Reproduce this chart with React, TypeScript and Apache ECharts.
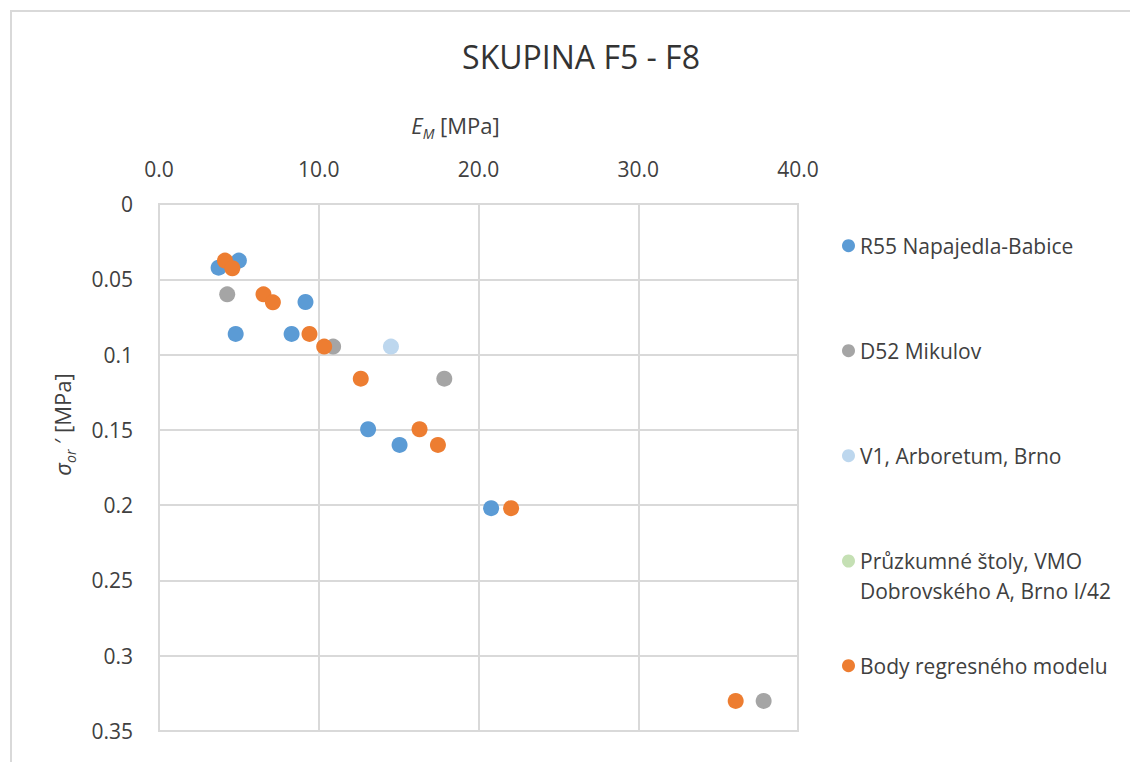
import React, { useEffect, useRef } from "react";
import * as echarts from "echarts";

const seriesNames = [
  "R55 Napajedla-Babice",
  "D52 Mikulov",
  "V1, Arboretum, Brno",
  "Průzkumné štoly, VMO Dobrovského A, Brno I/42",
  "Body regresného modelu",
];
const seriesColors = ["#5B9BD5", "#A5A5A5", "#BDD7EE", "#C5E0B4", "#ED7D31"];

const r55Data: number[][] = [
  [3.73, 0.0423], [5.0, 0.0376], [4.8, 0.0863], [9.17, 0.0651],
  [8.3, 0.0863], [13.09, 0.1496], [15.06, 0.16], [20.79, 0.202],
];
const d52Data: number[][] = [
  [4.27, 0.06], [10.9, 0.0947], [17.86, 0.116], [37.85, 0.33],
];
const v1Data: number[][] = [[14.52, 0.0947]];
const pruzkumData: number[][] = [];
const regresData: number[][] = [
  [4.13, 0.0376], [4.59, 0.0427], [6.54, 0.06], [7.13, 0.0653],
  [9.42, 0.0863], [10.34, 0.0947], [12.63, 0.116], [16.31, 0.1496],
  [17.46, 0.16], [22.04, 0.202], [36.1, 0.33],
];
const allData = [r55Data, d52Data, v1Data, pruzkumData, regresData];

const xTicks = { min: 0, max: 40, interval: 10 };
const yTicks = { min: 0, max: 0.35, interval: 0.05 };

const FONT = "'Open Sans', 'Noto Sans', sans-serif";
const TXT = "#404040";

export default function App() {
  const ref = useRef<HTMLDivElement>(null);
  useEffect(() => {
    if (!ref.current) return;
    const chart = echarts.init(ref.current, null, { renderer: "svg" });
    const legendTops = [230.7, 335.7, 440.7, 516, 650.7];
    const legends = seriesNames.map((n, i) => ({
      orient: "vertical",
      left: 842,
      top: legendTops[i],
      padding: 0,
      itemWidth: 13,
      itemHeight: 13,
      icon: "circle",
      data: [n],
      selectedMode: false,
      formatter: (name: string) =>
        name === seriesNames[3]
          ? " \nPrůzkumné štoly, VMO\nDobrovského A, Brno I/42"
          : name,
      textStyle: { fontFamily: FONT, fontSize: 21, color: TXT, lineHeight: 30 },
    }));
    const nameRich = {
      i: { fontFamily: FONT, fontSize: 22, fontStyle: "italic", color: TXT, lineHeight: 30 },
      s: { fontFamily: FONT, fontSize: 14, fontStyle: "italic", color: TXT, lineHeight: 30, verticalAlign: "bottom" },
      n: { fontFamily: FONT, fontSize: 22, color: TXT, lineHeight: 30 },
    };
    chart.setOption({
      animation: false,
      backgroundColor: "#fff",
      title: {
        text: "SKUPINA F5 - F8",
        left: 576,
        textAlign: "center",
        top: 35,
        textStyle: { fontFamily: FONT, fontSize: 32, fontWeight: "normal", color: "#333" },
      },
      graphic: [
        {
          type: "rect",
          shape: { x: 11, y: 11, width: 1140, height: 780 },
          style: { fill: "none", stroke: "#D9D9D9", lineWidth: 2 },
          silent: true,
        },
      ],
      legend: legends,
      grid: { left: 159, top: 204, right: 332, bottom: 31, show: true, borderColor: "#D9D9D9", borderWidth: 2 },
      xAxis: {
        type: "value",
        position: "top",
        min: xTicks.min,
        max: xTicks.max,
        interval: xTicks.interval,
        name: "{i|E}{s|M}{n| [MPa]}",
        nameLocation: "middle",
        nameGap: 64,
        nameTextStyle: { padding: [0, 46, 0, 0], rich: nameRich },
        axisLine: { show: true, lineStyle: { color: "#D9D9D9", width: 2 } },
        axisTick: { show: false },
        axisLabel: {
          margin: 25,
          fontFamily: FONT,
          fontSize: 21,
          color: TXT,
          formatter: (v: number) => v.toFixed(1),
        },
        splitLine: { show: true, lineStyle: { color: "#D9D9D9", width: 2 } },
      },
      yAxis: {
        type: "value",
        inverse: true,
        min: yTicks.min,
        max: yTicks.max,
        interval: yTicks.interval,
        name: "{i|σ}{s|or}{n| ′ [MPa]}",
        nameLocation: "middle",
        nameGap: 82,
        nameRotate: 90,
        nameTextStyle: { padding: [0, 0, 0, 86], rich: nameRich },
        axisLine: { show: true, lineStyle: { color: "#D9D9D9", width: 2 } },
        axisTick: { show: false },
        axisLabel: {
          margin: 26,
          fontFamily: FONT,
          fontSize: 21,
          color: TXT,
          formatter: (v: number) => String(parseFloat(v.toFixed(2))),
        },
        splitLine: { show: true, lineStyle: { color: "#D9D9D9", width: 2 } },
      },
      series: seriesNames.map((n, i) => ({
        name: n,
        type: "scatter",
        data: allData[i],
        symbol: "circle",
        symbolSize: 16,
        itemStyle: { color: seriesColors[i], opacity: 1 },
        emphasis: { disabled: true },
      })),
    });
    return () => chart.dispose();
  }, []);
  return (
    <div
      ref={ref}
      style={{ position: "fixed", left: 0, top: 0, width: 1130, height: 762 }}
    />
  );
}
